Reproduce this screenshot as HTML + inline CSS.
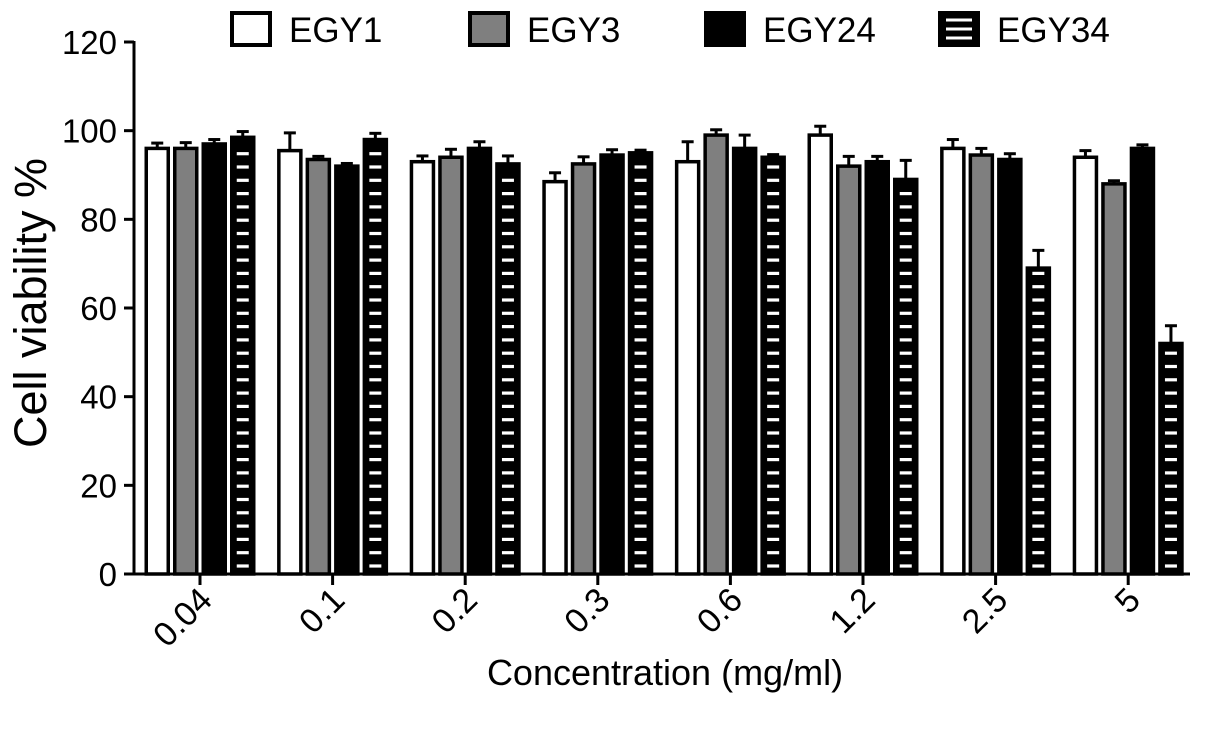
<!DOCTYPE html>
<html><head><meta charset="utf-8"><style>
html,body{margin:0;padding:0;background:#fff;}
svg{display:block;font-family:"Liberation Sans",Arial,sans-serif;}
</style></head><body>
<svg id="chart" width="1205" height="734" viewBox="0 0 1205 734">
<g id="plot"></g>
</svg>
<script>
const categories = ["0.04","0.1","0.2","0.3","0.6","1.2","2.5","5"];
const seriesNames = ["EGY1","EGY3","EGY24","EGY34"];
const egy1 = [96,95.5,93,88.5,93,99,96,94];
const egy3 = [96,93.5,94,92.5,99,92,94.5,88];
const egy24 = [97,92,96,94.5,96,93,93.5,96];
const egy34 = [98.5,98,92.5,95,94,89,69,52];
const egy1Err = [1.2,4,1.3,2,4.5,2,2,1.5];
const egy3Err = [1.3,0.7,1.8,1.6,1.2,2.2,1.5,0.7];
const egy24Err = [1,0.6,1.5,1.2,3,1.2,1.3,0.8];
const egy34Err = [1.3,1.4,1.8,0.6,0.6,4.3,4,4];
const yTicks = [0,20,40,60,80,100,120];

const NS="http://www.w3.org/2000/svg";
const g=document.getElementById('plot');
const X0=134, X1=1190, Y0=574, Ytop=42, YMAX=120;
const y=v=>Y0-(v/YMAX)*(Y0-Ytop);
const band=(i)=>200+i*132.6;
const fills=["#fff","#7f7f7f","#000","#000"];
const vals=[egy1,egy3,egy24,egy34];
const errs=[egy1Err,egy3Err,egy24Err,egy34Err];
function mk(tag,attrs){const e=document.createElementNS(NS,tag);for(const k in attrs)e.setAttribute(k,attrs[k]);g.appendChild(e);return e;}
function dashes(x,w,top,bottom){
  for(let yy=bottom-8;yy>top+4;yy-=13.3){
    const d=mk('rect',{x:x+w/2-6,y:yy-1.6,width:12,height:3.2,fill:'#fff'});
    
    
  }
}

categories.forEach((c,i)=>{
  for(let j=0;j<4;j++){
    const v=vals[j][i], er=errs[j][i];
    const bx=band(i)+(j-1.5)*28.5-11;
    const top=y(v+er);
    const el=mk('line',{x1:bx+11,x2:bx+11,y1:y(v),y2:top,stroke:'#000','stroke-width':3});
    
    
    const cap=mk('line',{x1:bx+5,x2:bx+17,y1:top,y2:top,stroke:'#000','stroke-width':3});
    
    
    const r=mk('rect',{x:bx,y:y(v),width:22,height:Y0-y(v),fill:fills[j],stroke:'#000','stroke-width':3.5});
    
    
    if(j===3) dashes(bx,22,y(v),Y0);
  }
  const t=mk('line',{x1:band(i),x2:band(i),y1:Y0,y2:Y0+11,stroke:'#000','stroke-width':3});
  
  
  const lb=mk('text',{x:0,y:0,'font-size':34,'text-anchor':'end',transform:`translate(${band(i)+14},${Y0+28}) rotate(-45)`});
  lb.textContent=c;
  
  
});
yTicks.forEach(v=>{
  const t=mk('line',{x1:X0-10,x2:X0,y1:y(v),y2:y(v),stroke:'#000','stroke-width':3});
  
  
  const lb=mk('text',{x:X0-17,y:y(v)+12,'font-size':33,'text-anchor':'end'});
  lb.textContent=v;
  
  
});
const ax=mk('line',{x1:X0,x2:X0,y1:Ytop-1,y2:Y0+1.5,stroke:'#000','stroke-width':3});


const axx=mk('line',{x1:X0-1.5,x2:X1,y1:Y0,y2:Y0,stroke:'#000','stroke-width':3});


const yt=mk('text',{x:0,y:0,'font-size':45,'text-anchor':'middle',transform:'translate(46,303) rotate(-90)'});
yt.textContent='Cell viability  %';


const xt=mk('text',{x:665,y:685,'font-size':36,'text-anchor':'middle'});
xt.textContent='Concentration (mg/ml)';


const legX=[232,470,706,940];
seriesNames.forEach((n,j)=>{
  const r=mk('rect',{x:legX[j],y:13,width:38,height:32,fill:fills[j],stroke:'#000','stroke-width':4});
  
  
  if(j===3){
    [20,29,38].forEach(yy=>{
      const d=mk('rect',{x:legX[j]+6,y:yy-1.5,width:26,height:3,fill:'#fff'});
      
      
    });
  }
  const t=mk('text',{x:legX[j]+57,y:42,'font-size':35});
  t.textContent=n;
  
  
});
</script>
</body></html>
